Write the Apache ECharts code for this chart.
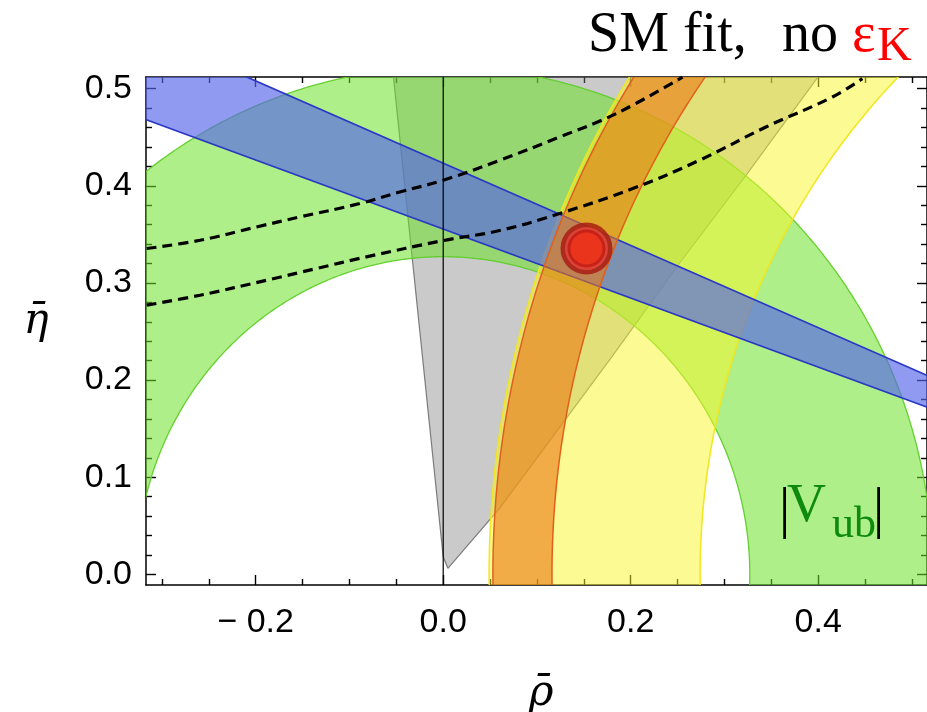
<!DOCTYPE html>
<html><head><meta charset="utf-8">
<script src="https://cdn.jsdelivr.net/npm/echarts@6/dist/echarts.min.js"></script>
<style>html,body{margin:0;padding:0;background:#fff}#c{width:927px;height:712px}</style>
</head><body><div id="c"></div>
<script>
// ---- axis ranges and ticks ----
const xRange = [-0.317, 0.516];
const yRange = [-0.011, 0.512];
const xMajorTicks = [-0.2, 0.0, 0.2, 0.4];
const xTickLabels = ['\u2212 0.2', '0.0', '0.2', '0.4'];
const xMinorTicks = [-0.3, -0.25, -0.15, -0.1, -0.05, 0.05, 0.1, 0.15, 0.25, 0.3, 0.35, 0.45, 0.5];
const yMajorTicks = [0.0, 0.1, 0.2, 0.3, 0.4, 0.5];
const yTickLabels = ['0.0', '0.1', '0.2', '0.3', '0.4', '0.5'];
const yMinorTicks = [0.02, 0.04, 0.06, 0.08, 0.12, 0.14, 0.16, 0.18, 0.22, 0.24, 0.26, 0.28,
                     0.32, 0.34, 0.36, 0.38, 0.42, 0.44, 0.46, 0.48];

// ---- constraints ----
const vubCenter = [0, 0];          // |Vub| ring
const vubRadii = [0.327, 0.522];
const dmdCenter = [1, 0];          // Delta m_d ring (yellow)
const dmdRadii = [0.726, 0.951];
const dmsCenter = [1, 0];          // Delta m_s / Delta m_d ring (orange)
const dmsRadii = [0.884, 0.947];
const sin2bApex = [1, 0];          // sin 2beta band (blue), edge slopes
const sin2bSlopes = [-0.4233, -0.3555];
const gammaPoly = [[-0.055, 0.53], [0.0, 0.018], [0.005, 0.0062], [0.0601, 0.0679],
                   [0.1773, 0.2205], [0.2518, 0.320], [0.3229, 0.4108], [0.401, 0.5137], [0.414, 0.53]];
const gammaLeftEdge = [0, 1, 2];
const gammaRightEdge = [2, 3, 4, 5, 6, 7, 8];
const epsKUpper = [[-0.3163, 0.3354], [-0.2595, 0.3439], [-0.1991, 0.3576], [-0.153, 0.3679],
                   [-0.089, 0.3817], [-0.0464, 0.3936], [0.0, 0.4057], [0.0601, 0.4262],
                   [0.124, 0.4502], [0.1844, 0.4743], [0.2553, 0.5119]];
const epsKLower = [[-0.3163, 0.2771], [-0.2595, 0.2873], [-0.1884, 0.3028], [-0.1352, 0.3148],
                   [-0.0819, 0.3268], [0.0, 0.3436], [0.0601, 0.3539], [0.124, 0.3714],
                   [0.2021, 0.3971], [0.2731, 0.4262], [0.3442, 0.4605], [0.4151, 0.4914], [0.4471, 0.5103]];
const fitPoint = [0.1528, 0.3354];
const rhoZeroLine = [[0, -0.011], [0, 0.512]];

const chart = echarts.init(document.getElementById('c'), null, {renderer: 'canvas'});

function ringSeries(center, radii, fill, stroke, lw) {
  return {
    type: 'custom', coordinateSystem: 'cartesian2d', clip: true, silent: true,
    data: [[0, 0]],
    renderItem: function (params, api) {
      const outer = [], inner = [];
      const n = 360, a0 = -0.4, a1 = Math.PI + 0.4;
      for (let i = 0; i <= n; i++) {
        const t = a0 + (a1 - a0) * i / n;
        outer.push(api.coord([center[0] + radii[1] * Math.cos(t), center[1] + radii[1] * Math.sin(t)]));
        inner.push(api.coord([center[0] + radii[0] * Math.cos(t), center[1] + radii[0] * Math.sin(t)]));
      }
      return {type: 'group', children: [
        {type: 'polygon', shape: {points: outer.concat(inner.slice().reverse())}, style: {fill: fill}},
        {type: 'polyline', shape: {points: outer}, style: {fill: null, stroke: stroke, lineWidth: lw}},
        {type: 'polyline', shape: {points: inner}, style: {fill: null, stroke: stroke, lineWidth: lw}}
      ]};
    }
  };
}

function bandSeries(apex, slopes, fill, stroke, lw) {
  return {
    type: 'custom', coordinateSystem: 'cartesian2d', clip: true, silent: true,
    data: [[0, 0]],
    renderItem: function (params, api) {
      const xf = -0.6;
      const pA = api.coord(apex);
      const p1 = api.coord([xf, apex[1] + slopes[0] * (xf - apex[0])]);
      const p2 = api.coord([xf, apex[1] + slopes[1] * (xf - apex[0])]);
      return {type: 'group', children: [
        {type: 'polygon', shape: {points: [pA, p1, p2]}, style: {fill: fill}},
        {type: 'line', shape: {x1: pA[0], y1: pA[1], x2: p1[0], y2: p1[1]}, style: {stroke: stroke, lineWidth: lw}},
        {type: 'line', shape: {x1: pA[0], y1: pA[1], x2: p2[0], y2: p2[1]}, style: {stroke: stroke, lineWidth: lw}}
      ]};
    }
  };
}

function polySeries(poly, edges, fill, stroke, lw) {
  return {
    type: 'custom', coordinateSystem: 'cartesian2d', clip: true, silent: true,
    data: [[0, 0]],
    renderItem: function (params, api) {
      const pts = poly.map(p => api.coord(p));
      const kids = [{type: 'polygon', shape: {points: pts}, style: {fill: fill}}];
      edges.forEach(e => kids.push({type: 'polyline', shape: {points: e.map(i => pts[i])},
        style: {fill: null, stroke: stroke, lineWidth: lw}}));
      return {type: 'group', children: kids};
    }
  };
}

const tickStyle = {color: '#000', width: 1.4};
function labelFor(ticks, labels) {
  return function (v) {
    const i = ticks.findIndex(t => Math.abs(t - v) < 1e-9);
    return i >= 0 ? labels[i] : '';
  };
}
const labelFont = '"Liberation Sans", Arial, sans-serif';

function xAx(grid, pos, ticks, len, lineShow, labels) {
  return {
    type: 'value', gridIndex: grid, position: pos, min: xRange[0], max: xRange[1],
    splitLine: {show: false},
    axisLine: {show: lineShow, onZero: false, lineStyle: {color: '#000', width: 1.5}},
    axisTick: {show: true, inside: true, length: len, customValues: ticks, lineStyle: tickStyle},
    axisLabel: labels ? {show: true, customValues: ticks, formatter: labelFor(ticks, labels),
      fontSize: 34, fontFamily: labelFont, color: '#000', margin: 21} : {show: false}
  };
}
function yAx(grid, pos, ticks, len, lineShow, labels) {
  return {
    type: 'value', gridIndex: grid, position: pos, min: yRange[0], max: yRange[1],
    splitLine: {show: false},
    axisLine: {show: lineShow, onZero: false, lineStyle: {color: '#000', width: 1.5}},
    axisTick: {show: true, inside: true, length: len, customValues: ticks, lineStyle: tickStyle},
    axisLabel: labels ? {show: true, customValues: ticks, formatter: labelFor(ticks, labels),
      fontSize: 34, fontFamily: labelFont, color: '#000', margin: 14} : {show: false}
  };
}

const serif = '"Liberation Serif", "Times New Roman", serif';
function txt(x, baseline, text, size, color, style) {
  return {type: 'text', x: x, y: baseline - 0.34 * size, z: 100,
    style: {text: text, fill: color, align: 'left', verticalAlign: 'middle',
      font: (style || '') + ' ' + size + 'px ' + serif}};
}

const option = {
  animation: false,
  backgroundColor: '#fff',
  grid: [
    {left: 146, top: 77, width: 782, height: 508},
    {left: 146, top: 77, width: 782, height: 508}
  ],
  xAxis: [
    xAx(0, 'bottom', xMajorTicks, 10, true, xTickLabels),
    xAx(0, 'top', xMajorTicks, 10, true, null),
    xAx(1, 'bottom', xMinorTicks, 6, false, null),
    xAx(1, 'top', xMinorTicks, 6, false, null)
  ],
  yAxis: [
    yAx(0, 'left', yMajorTicks, 10, true, yTickLabels),
    yAx(0, 'right', yMajorTicks, 10, true, null),
    yAx(1, 'left', yMinorTicks, 6, false, null),
    yAx(1, 'right', yMinorTicks, 6, false, null)
  ],
  graphic: [
    txt(588, 55, 'SM fit,', 56, '#000'),
    txt(782, 55, 'no', 56, '#000'),
    txt(852, 55, '\u03b5', 56, '#ff0000'),
    txt(877, 64, 'K', 48, '#ff0000'),
    txt(779, 531, '|', 56, '#000'),
    txt(787, 525, 'V', 54, '#0e8a0e'),
    txt(832, 540, 'ub', 44, '#0e8a0e'),
    txt(873, 531, '|', 56, '#000'),
    {type: 'text', x: 541, y: 694, z: 100, style: {text: '\u03c1\u0304', fill: '#000', align: 'center',
      verticalAlign: 'middle', font: 'italic 42px "DejaVu Serif", serif'}},
    {type: 'text', x: 36, y: 322, z: 100, style: {text: '\u03b7\u0304', fill: '#000', align: 'center',
      verticalAlign: 'middle', font: 'italic 42px "DejaVu Serif", serif'}}
  ],
  series: [
    polySeries(gammaPoly, [gammaLeftEdge, gammaRightEdge], 'rgba(128,128,128,0.42)', 'rgba(105,105,105,0.85)', 1.2),
    ringSeries(vubCenter, vubRadii, 'rgba(110,225,40,0.55)', 'rgba(95,205,40,0.95)', 1.3),
    ringSeries(dmdCenter, dmdRadii, 'rgba(250,248,40,0.5)', 'rgba(240,230,30,0.95)', 1.6),
    bandSeries(sin2bApex, sin2bSlopes, 'rgba(85,100,232,0.65)', '#2a38c4', 1.7),
    ringSeries(dmsCenter, dmsRadii, 'rgba(235,120,20,0.6)', '#e0601a', 1.5),
    {type: 'line', data: rhoZeroLine, symbol: 'none', silent: true,
      lineStyle: {color: '#000', width: 1.2}},
    {type: 'line', data: epsKUpper, symbol: 'none', smooth: 0.4, silent: true,
      lineStyle: {color: '#000', width: 3.2, type: [10, 6]}},
    {type: 'line', data: epsKLower, symbol: 'none', smooth: 0.4, silent: true,
      lineStyle: {color: '#000', width: 3.2, type: [10, 6]}},
    {type: 'scatter', silent: true, z: 10, data: [
      {value: fitPoint, symbolSize: 52, itemStyle: {color: '#a8150f'}},
      {value: fitPoint, symbolSize: 43, itemStyle: {color: '#e64a3c'}},
      {value: fitPoint, symbolSize: 38, itemStyle: {color: '#c01a14'}},
      {value: fitPoint, symbolSize: 32, itemStyle: {color: '#f23a1c'}}
    ]}
  ]
};
chart.setOption(option);
</script></body></html>
